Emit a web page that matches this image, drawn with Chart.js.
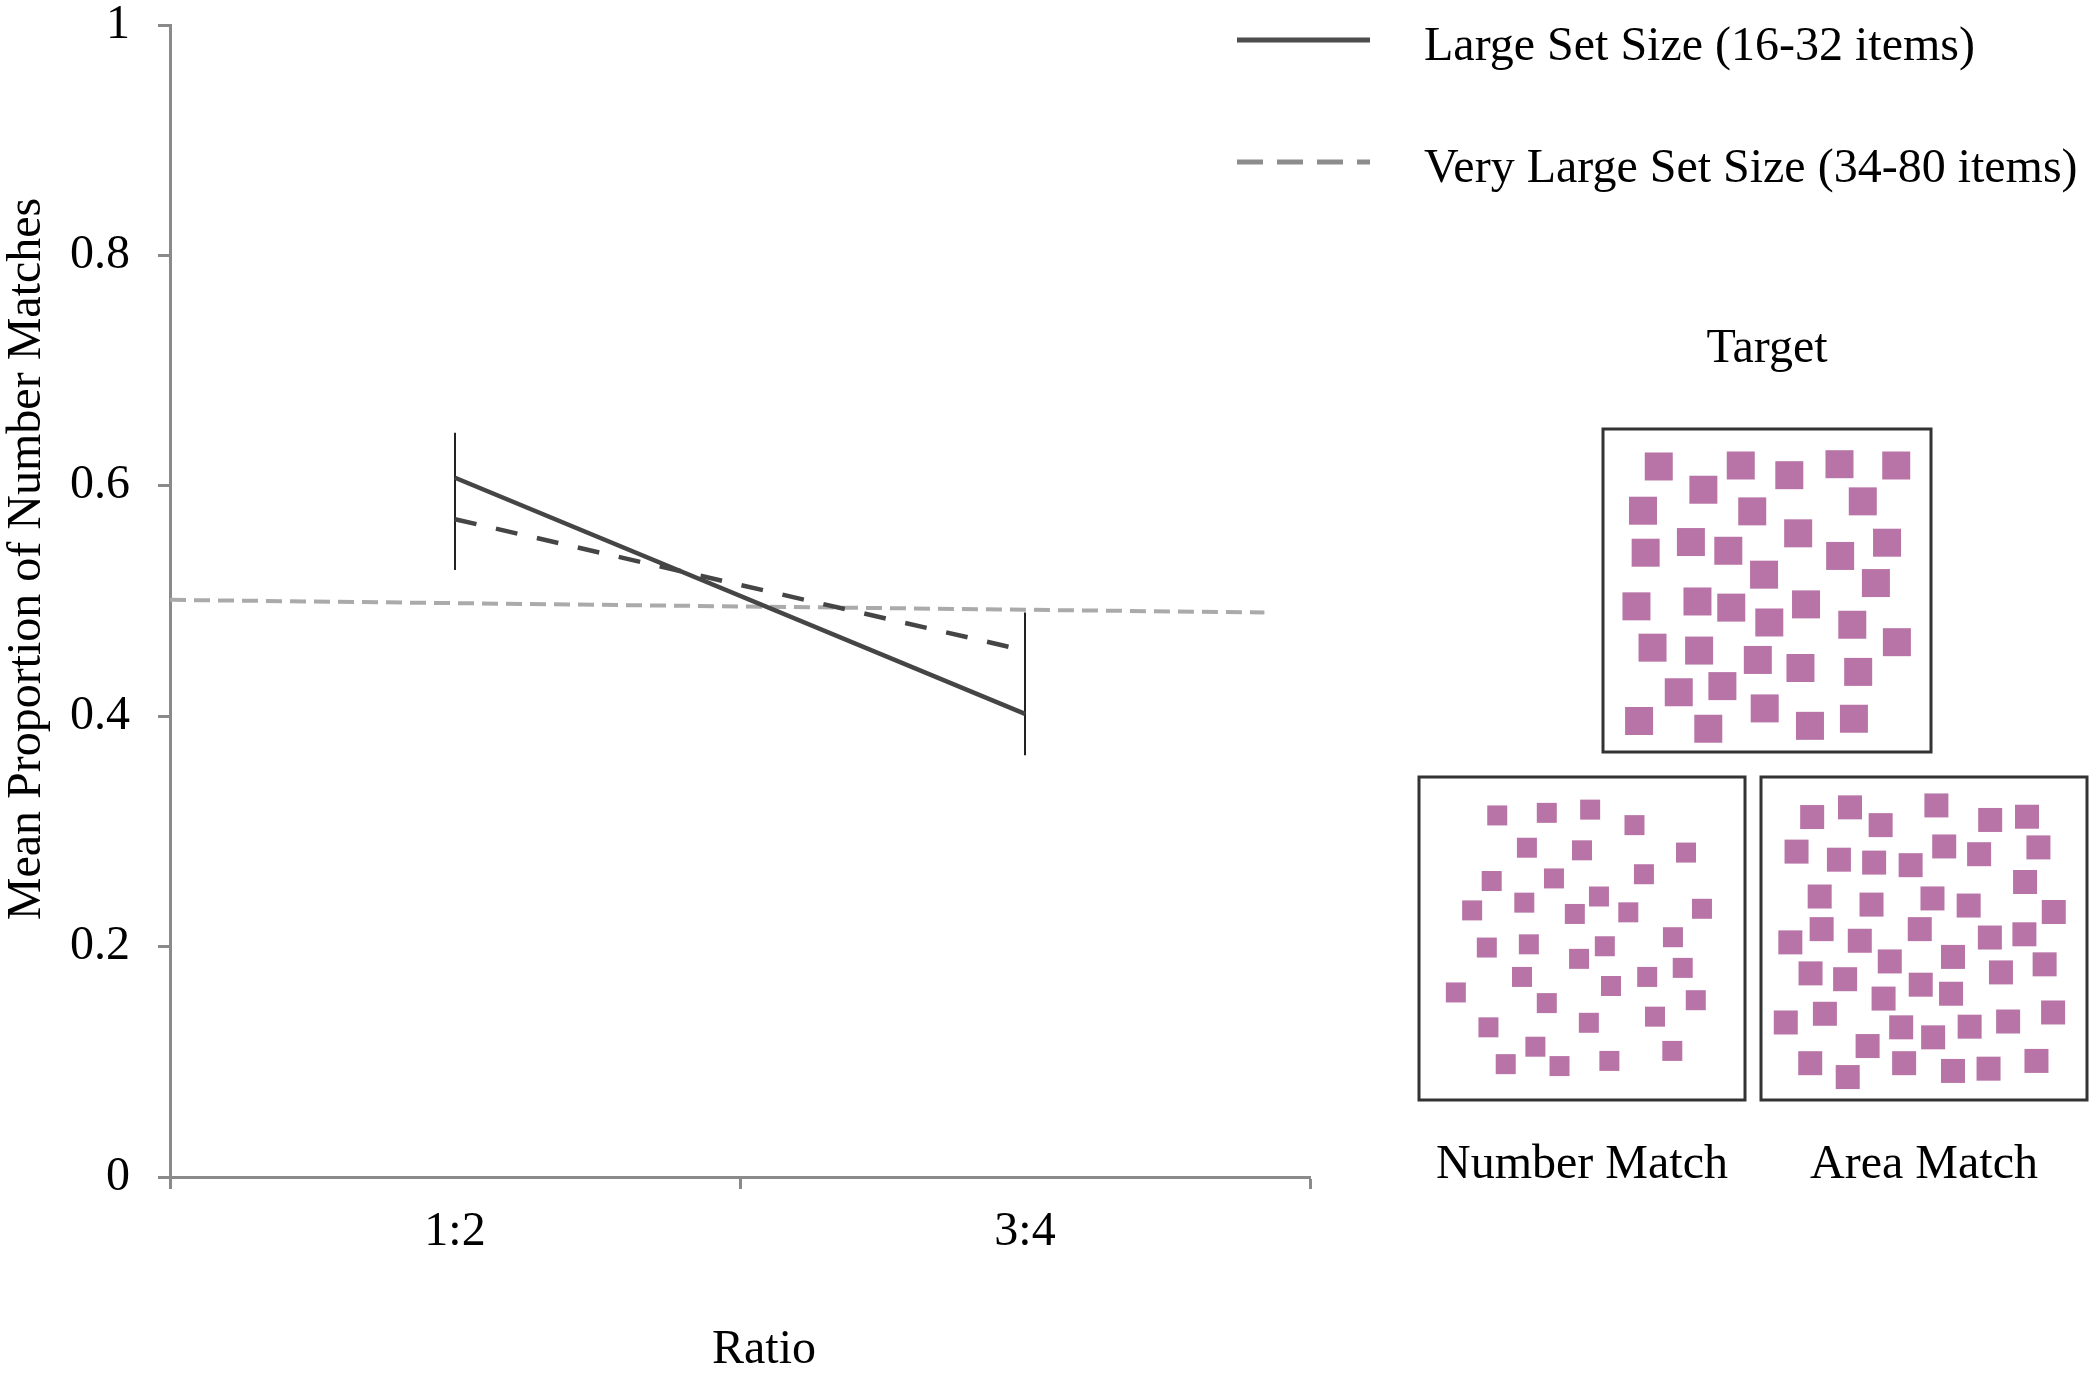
<!DOCTYPE html>
<html>
<head>
<meta charset="utf-8">
<title>Mean Proportion of Number Matches by Ratio</title>
<script src="https://cdn.jsdelivr.net/npm/chart.js@4.4.0/dist/chart.umd.min.js"></script>
<style>
  html, body { margin: 0; padding: 0; background: #fff; }
  #page { position: relative; width: 2100px; height: 1374px; overflow: hidden; }
  canvas { position: absolute; }
</style>
</head>
<body>
<div id="page">
  <canvas id="mainChart" width="2100" height="1374" style="left:0;top:0"></canvas>
  <canvas id="targetBox" width="338" height="457" style="left:1598px;top:300px"></canvas>
  <canvas id="numberBox" width="336" height="427" style="left:1414px;top:772px"></canvas>
  <canvas id="areaBox" width="336" height="427" style="left:1756px;top:772px"></canvas>
</div>
<script>
/* main plot values */
const ratios = ["1:2", "3:4"];
const largeSet = [0.607, 0.402];
const veryLargeSet = [0.571, 0.457];
const errLow = [0.527, 0.366];
const errHigh = [0.646, 0.490];
const chanceX = [-0.5, 1.42];
const chanceY = [0.501, 0.490];
const yTicks = [0, 0.2, 0.4, 0.6, 0.8, 1];
const xTicks = [-0.5, 0, 0.5, 1, 1.5];
const seriesLabels = ["Large Set Size (16-32 items)", "Very Large Set Size (34-80 items)"];

/* example stimulus squares, % of box (y from top) */
const targetX = [17.0,42.0,56.8,72.1,89.4,30.6,12.2,45.5,79.2,13.0,26.8,38.2,59.5,72.3,86.6,49.1,83.2,10.2,28.8,39.1,50.7,61.9,76.0,15.1,29.3,47.2,60.2,89.6,77.8,23.1,36.4,11.0,32.1,49.3,63.1,76.5];
const targetY = [11.6,11.3,14.3,10.9,11.3,18.8,25.3,25.5,22.4,38.3,35.0,37.7,32.3,39.3,35.2,45.1,47.7,54.9,53.4,55.3,59.9,54.3,60.6,67.7,68.6,71.5,74.0,66.0,75.2,81.5,79.6,90.4,92.8,86.5,91.9,89.7];
const numberX = [24.0,39.2,52.5,66.1,33.1,50.0,81.9,22.3,41.4,69.0,16.3,32.3,55.2,47.8,64.2,86.8,20.8,33.7,57.0,49.1,77.9,31.6,58.9,70.0,80.9,11.3,39.2,84.9,21.3,52.1,72.4,35.7,26.6,43.1,58.4,77.7];
const numberY = [11.9,11.1,10.1,14.9,21.9,22.7,23.4,32.2,31.4,30.1,41.3,38.9,37.0,42.4,41.9,40.8,52.8,51.8,52.4,56.3,49.6,61.9,64.7,61.9,59.1,66.7,70.0,69.1,77.5,76.1,74.2,83.5,88.9,89.5,87.9,84.8];
const areaX = [15.7,27.3,36.7,53.8,70.3,81.6,10.9,23.9,34.7,45.9,56.2,66.9,85.1,18.0,33.9,52.6,63.7,81.0,89.8,9.0,18.6,30.3,48.7,70.2,80.8,39.5,58.9,15.2,25.8,49.0,58.3,73.6,87.0,7.6,19.6,37.6,43.0,52.8,64.0,75.8,89.6,32.7,15.1,26.6,43.9,58.9,69.8,84.5];
const areaY = [12.4,9.4,14.9,8.8,13.3,12.3,23.1,25.6,26.5,27.3,21.5,23.9,21.8,37.0,39.5,37.6,39.8,32.5,41.8,51.2,47.1,50.7,47.1,49.7,48.7,57.1,55.7,60.8,62.6,64.3,67.1,60.5,58.0,76.0,73.3,68.6,77.5,80.6,77.3,75.7,72.9,83.3,88.6,92.9,88.6,91.0,90.3,87.9];

const serif = "'Liberation Serif', 'Times New Roman', serif";
Chart.defaults.font.family = serif;
Chart.defaults.color = "#000";
const AXIS = "#8a8a8a";
const LINE = "#454545";
const PINK = "#b874a6";

const toPts = (xs, ys) => xs.map((x, i) => ({ x: x, y: ys[i] }));
const catPos = ratios.map((_, i) => i);

// legend in the top right corner, drawn over the canvas
const legendKeys = [
  { color: "#4d4d4d", dash: [], y: 40 },
  { color: "#8c8c8c", dash: [26, 14], y: 162 }
];
const cornerLegend = {
  id: "cornerLegend",
  afterDraw(chart) {
    const ctx = chart.ctx;
    ctx.save();
    ctx.font = "48px " + serif;
    ctx.fillStyle = "#000";
    ctx.textBaseline = "alphabetic";
    legendKeys.forEach((k, i) => {
      ctx.beginPath();
      ctx.setLineDash(k.dash);
      ctx.strokeStyle = k.color;
      ctx.lineWidth = 5;
      ctx.moveTo(1237, k.y);
      ctx.lineTo(1370, k.y);
      ctx.stroke();
      ctx.setLineDash([]);
      ctx.fillText(seriesLabels[i], 1424, k.y + 20);
    });
    ctx.restore();
  }
};

const mainSets = [
  { label: seriesLabels[0], data: toPts(catPos, largeSet), borderColor: LINE, borderWidth: 4.5, order: 1 },
  { label: seriesLabels[1], data: toPts(catPos, veryLargeSet), borderColor: LINE, borderWidth: 4.5, borderDash: [22, 20], order: 2 }
];
errLow.forEach((lo, i) => {
  mainSets.push({ label: "error " + ratios[i], data: [{ x: i, y: lo }, { x: i, y: errHigh[i] }], borderColor: "#222", borderWidth: 2, order: 3 });
});
mainSets.push({ label: "chance", data: toPts(chanceX, chanceY), borderColor: "#aaaaaa", borderWidth: 4, borderDash: [16, 8], order: 10 });
mainSets.forEach(d => { d.showLine = true; d.pointRadius = 0; d.fill = false; });

new Chart(document.getElementById("mainChart"), {
  type: "scatter",
  data: { datasets: mainSets },
  options: {
    responsive: false,
    animation: false,
    events: [],
    layout: { autoPadding: false, padding: { left: 0, right: 790, top: 25, bottom: 0 } },
    plugins: { legend: { display: false }, tooltip: { enabled: false } },
    scales: {
      x: {
        type: "linear", min: -0.5, max: 1.5,
        afterBuildTicks: s => { s.ticks = xTicks.map(v => ({ value: v })); },
        afterFit: s => { s.height = 197; },
        border: { color: AXIS, width: 3 },
        grid: {
          drawOnChartArea: false, tickLength: 12, tickWidth: 3,
          tickColor: c => (c.tick && Number.isInteger(c.tick.value)) ? "rgba(0,0,0,0)" : AXIS
        },
        ticks: {
          padding: 15, autoSkip: false, maxRotation: 0, color: "#000",
          font: { size: 48, lineHeight: 1.2 },
          callback: v => Number.isInteger(v) ? ratios[v] : ""
        },
        title: { display: true, text: "    Ratio", color: "#000", font: { size: 48, lineHeight: 1 }, padding: { top: 0, bottom: 0 } }
      },
      y: {
        min: 0, max: 1,
        afterBuildTicks: s => { s.ticks = yTicks.map(v => ({ value: v })); },
        afterFit: s => { s.width = 170; s.paddingTop = 0; s.paddingBottom = 0; },
        border: { color: AXIS, width: 3 },
        grid: { drawOnChartArea: false, tickLength: 12, tickWidth: 3, tickColor: AXIS },
        ticks: { padding: 28, color: "#000", font: { size: 48, lineHeight: 1 }, callback: v => String(+v.toFixed(1)) },
        title: { display: true, text: "       Mean Proportion of Number Matches", color: "#000", font: { size: 48, lineHeight: 1 }, padding: { top: 3, bottom: 0 } }
      }
    }
  },
  plugins: [cornerLegend]
});

// framed boxes with the example dot arrays
const boxFrame = {
  id: "boxFrame",
  beforeDatasetsDraw(chart) {
    const { ctx, chartArea: a } = chart;
    ctx.save();
    ctx.strokeStyle = "#333";
    ctx.lineWidth = 3;
    ctx.strokeRect(a.left, a.top, a.right - a.left, a.bottom - a.top);
    ctx.restore();
  }
};

function makePanel(id, xs, ys, side, title, titlePos, titlePad, pad) {
  new Chart(document.getElementById(id), {
    type: "scatter",
    data: {
      datasets: [{
        data: toPts(xs, ys),
        pointStyle: "rect",
        pointRadius: side / Math.SQRT2,
        backgroundColor: PINK,
        borderWidth: 0
      }]
    },
    options: {
      responsive: false,
      animation: false,
      events: [],
      layout: { autoPadding: false, padding: pad },
      plugins: {
        legend: { display: false },
        tooltip: { enabled: false },
        title: {
          display: true, text: title, position: titlePos, color: "#000",
          font: { size: 48, lineHeight: 1, weight: "normal" }, padding: titlePad
        }
      },
      scales: {
        x: { display: false, min: 0, max: 100 },
        y: { display: false, min: 0, max: 100, reverse: true }
      }
    },
    plugins: [boxFrame]
  });
}

makePanel("targetBox", targetX, targetY, 28, "Target", "top", { top: 25, bottom: 56 }, { left: 5, right: 5, top: 0, bottom: 5 });
makePanel("numberBox", numberX, numberY, 20, "Number Match", "bottom", { top: 41, bottom: 10 }, { left: 5, right: 5, top: 5, bottom: 0 });
makePanel("areaBox", areaX, areaY, 24, "Area Match", "bottom", { top: 41, bottom: 10 }, { left: 5, right: 5, top: 5, bottom: 0 });
</script>
</body>
</html>
